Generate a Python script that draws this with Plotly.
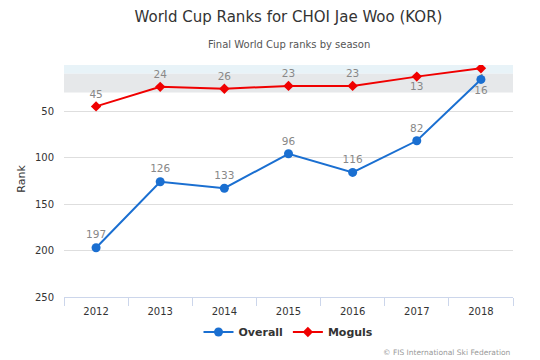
import plotly.graph_objects as go

seasons = ["2012", "2013", "2014", "2015", "2016", "2017", "2018"]
overall = [197, 126, 133, 96, 116, 82, 16]
moguls = [45, 24, 26, 23, 23, 13, 4]
overall_label_pos = ["top center"] * 6 + ["bottom center"]
moguls_label_pos = ["top center"] * 5 + ["bottom center", "bottom center"]
y_ticks = [50, 100, 150, 200, 250]

blue = "#1a6fd1"
red = "#f00000"
font = "DejaVu Sans"

# page body has an 8px margin; the figure is sized/shifted to compensate
W, H = 532, 352

fig = go.Figure()
fig.add_trace(go.Scatter(
    x=seasons, y=moguls, name="<b>Moguls</b>", mode="lines+markers+text",
    line=dict(color=red, width=2), marker=dict(symbol="diamond", size=8, color=red),
    text=[str(v) for v in moguls], textposition=moguls_label_pos,
    textfont=dict(family=font, size=10.5, color="#888888"), legendrank=2,
))
fig.add_trace(go.Scatter(
    x=seasons, y=overall, name="<b>Overall</b>", mode="lines+markers+text",
    line=dict(color=blue, width=2), marker=dict(symbol="circle", size=9, color=blue),
    text=[str(v) for v in overall], textposition=overall_label_pos,
    textfont=dict(family=font, size=10.5, color="#888888"), legendrank=1,
))

fig.add_shape(type="rect", xref="paper", yref="y", x0=0, x1=1, y0=0.5, y1=10,
              fillcolor="#e8f3f8", line_width=0, layer="below")
fig.add_shape(type="rect", xref="paper", yref="y", x0=0, x1=1, y0=10, y1=30,
              fillcolor="#e6e8ea", line_width=0, layer="below")

fig.update_layout(
    width=W, height=H,
    margin=dict(l=56, r=27, t=57, b=63, autoexpand=False),
    paper_bgcolor="white", plot_bgcolor="white",
    title=dict(text="World Cup Ranks for CHOI Jae Woo (KOR)", x=0.5, xanchor="center",
               xref="paper", yref="container", y=1 - 9 / H, yanchor="middle",
               font=dict(family=font, size=15, color="#333333")),
    showlegend=True,
    legend=dict(orientation="h", x=0.5, xanchor="center", y=-35 / 232, yanchor="middle",
                font=dict(family=font, size=11, color="#333333"), traceorder="normal"),
    xaxis=dict(type="category", tickson="boundaries", ticks="outside", ticklen=8,
               tickcolor="#ccd6eb", showline=True, linecolor="#ccd6eb", linewidth=1,
               showgrid=False, tickfont=dict(family=font, size=10, color="#333333"),
               range=[-0.5, 6.5], automargin=False, ticklabelstandoff=5),
    yaxis=dict(range=[250, 0.5], tickvals=y_ticks, showgrid=True, gridcolor="#dedede",
               zeroline=False, tickfont=dict(family=font, size=10, color="#333333"),
               ticks="", ticklen=0, automargin=False, ticklabelstandoff=9),
)

fig.add_annotation(text="Rank", xref="paper", yref="paper", x=0, xshift=-42, y=0.51,
                   xanchor="center", yanchor="middle", textangle=-90, showarrow=False,
                   font=dict(family=font, size=11, color="#333333"))
fig.add_annotation(text="Final World Cup ranks by season", xref="paper", yref="paper",
                   x=0.5, y=1.0, yshift=21, xanchor="center", yanchor="middle", showarrow=False,
                   font=dict(family=font, size=10, color="#555555"))
fig.add_annotation(text="© FIS International Ski Federation", xref="paper", yref="paper",
                   x=1.0, y=0, yshift=-55, xanchor="right", yanchor="middle", showarrow=False,
                   font=dict(family=font, size=7.5, color="#999999"))

fig.write_html("out.html")
